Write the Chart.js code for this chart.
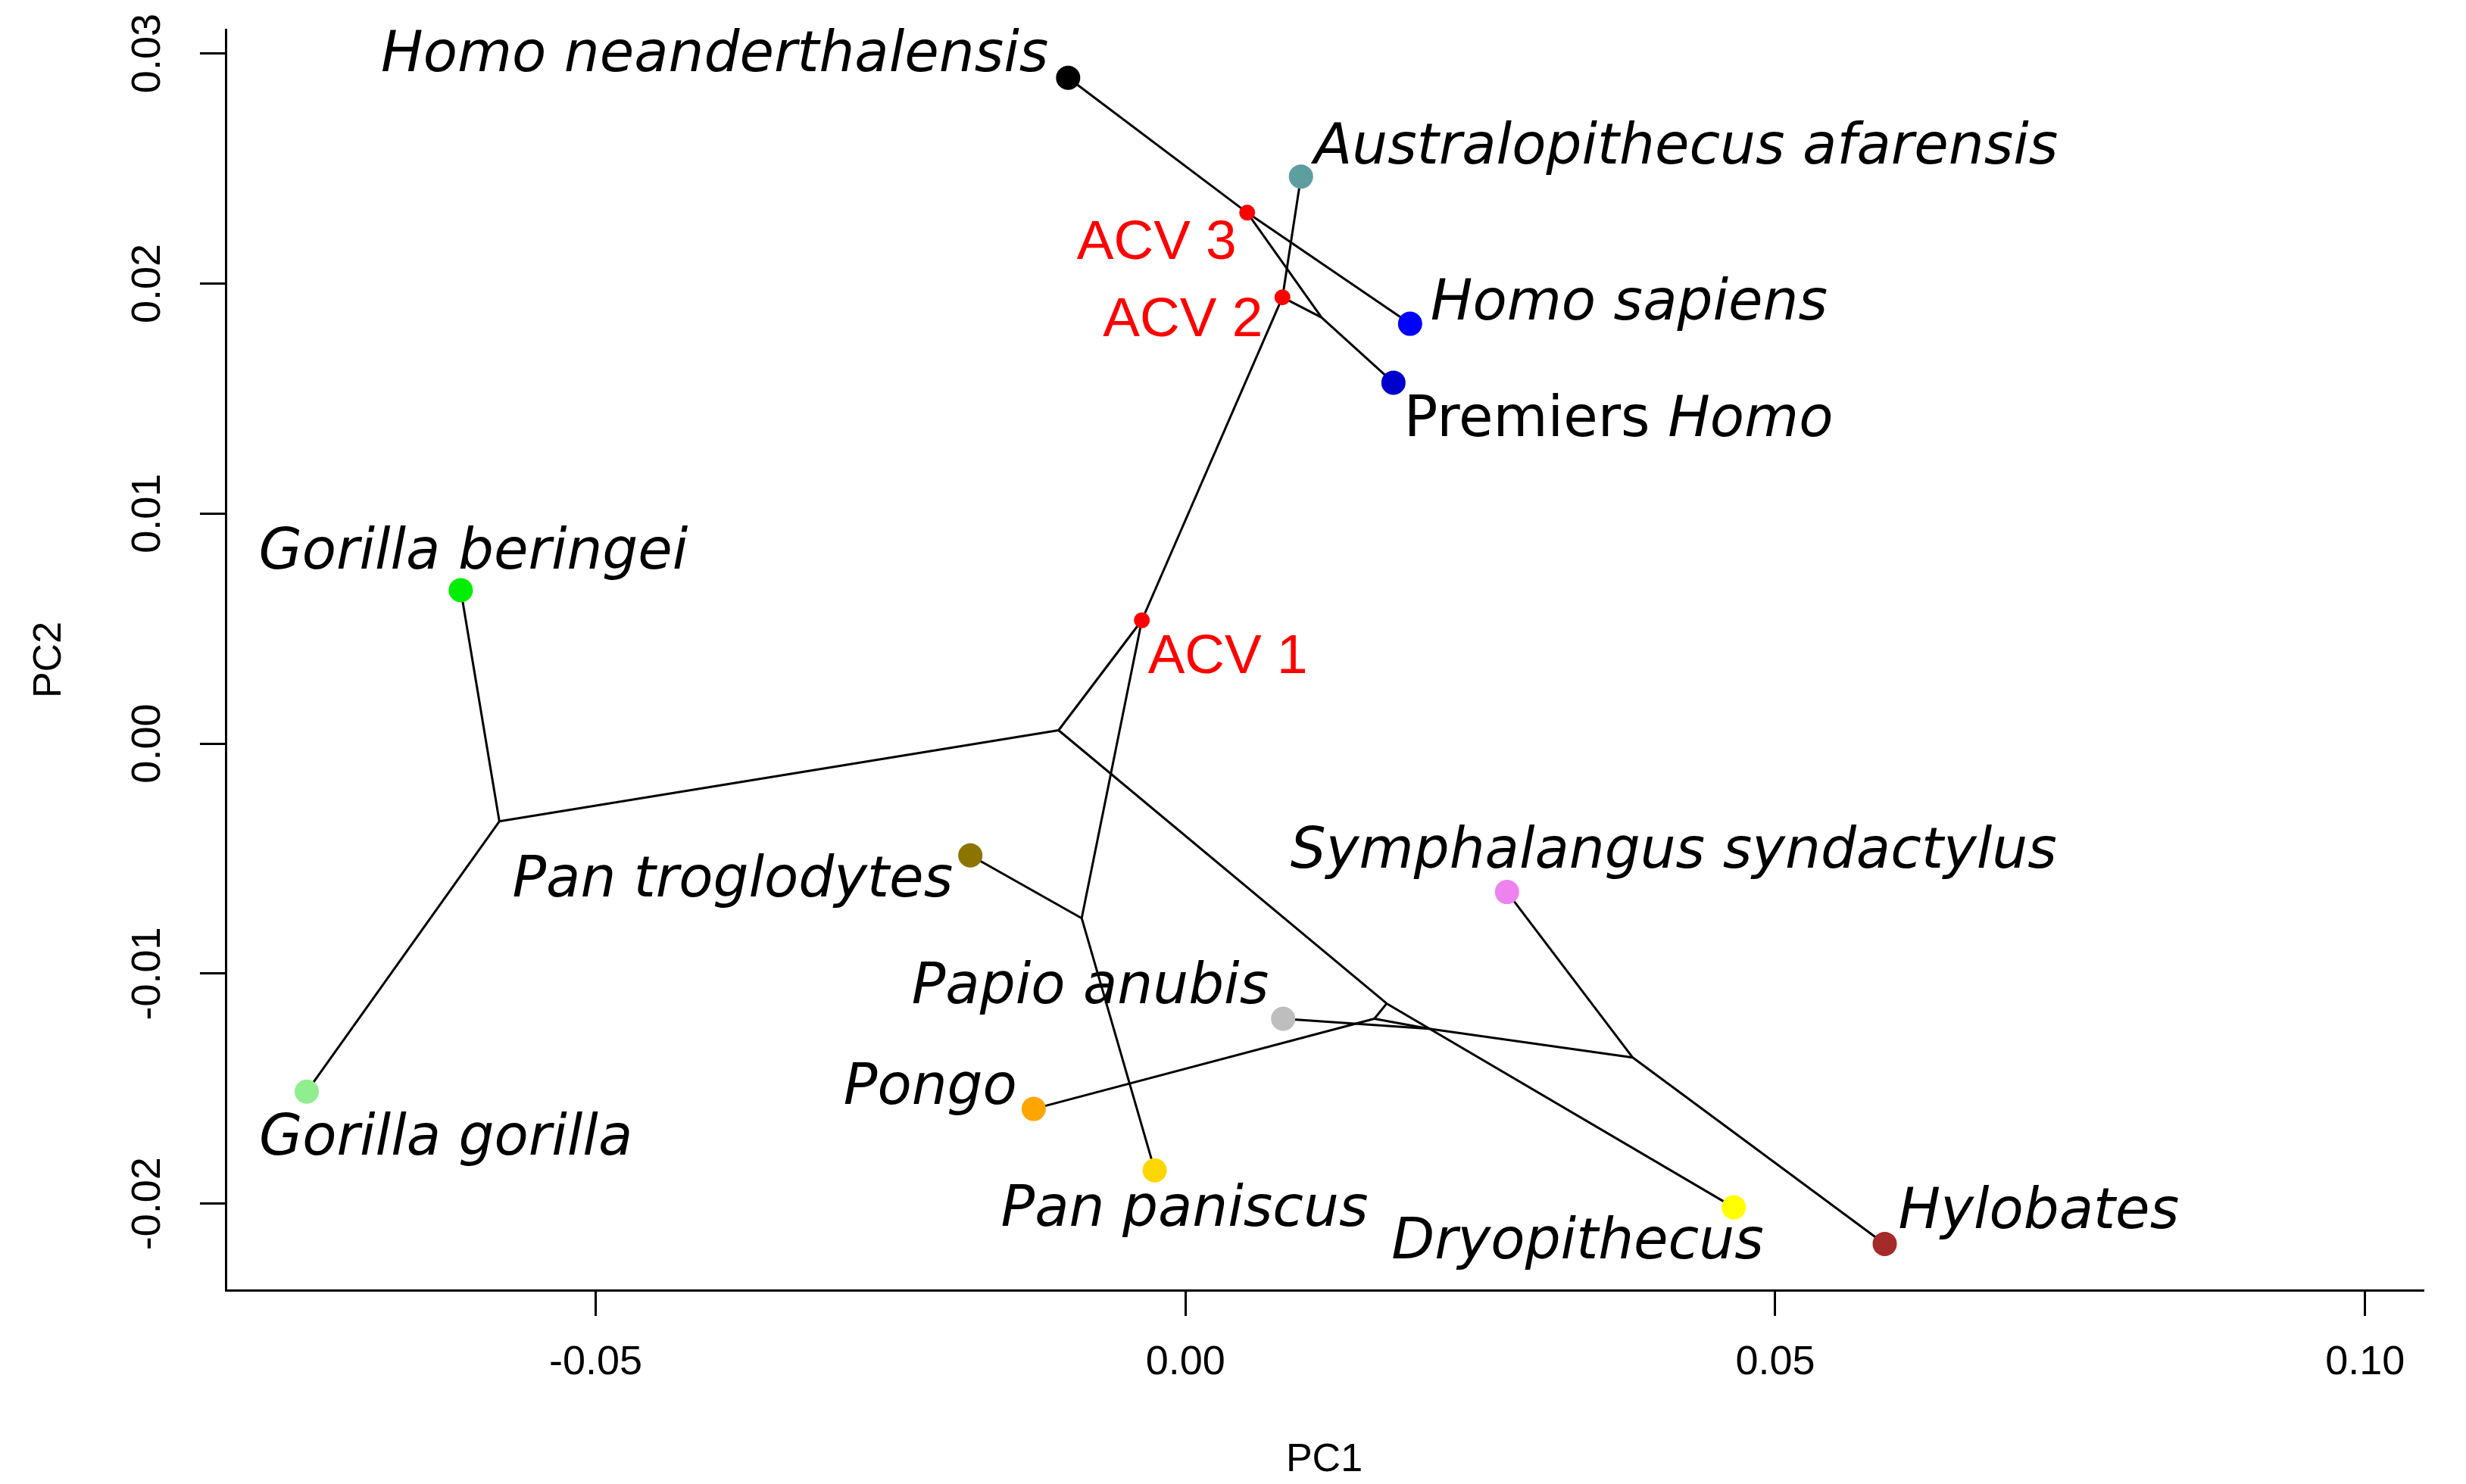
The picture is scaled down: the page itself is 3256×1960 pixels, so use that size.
<!DOCTYPE html>
<html>
<head>
<meta charset="utf-8">
<script src="https://cdn.jsdelivr.net/npm/chart.js@4"></script>
<style>
  html, body { margin: 0; padding: 0; background: #fff; }
  canvas { display: block; }
</style>
</head>
<body>
<canvas id="pcaChart" width="3256" height="1960"></canvas>
<script>
// taxons (tips)
const tipNames = ['Homo neanderthalensis', 'Australopithecus afarensis', 'Homo sapiens', 'Premiers Homo',
    'Gorilla beringei', 'Gorilla gorilla', 'Pan troglodytes', 'Pan paniscus', 'Pongo',
    'Papio anubis', 'Symphalangus syndactylus', 'Dryopithecus', 'Hylobates'];
const tipPC1 = [-0.00995, 0.00979, 0.01904, 0.01763, -0.06144, -0.07450, -0.01824, -0.00261, -0.01287,
    0.00828, 0.02726, 0.04648, 0.05928];
const tipPC2 = [0.02894, 0.02465, 0.01825, 0.01569, 0.00667, -0.01513, -0.00486, -0.01855, -0.01588,
    -0.01196, -0.00645, -0.02016, -0.02175];
const tipColors = ['#000000', '#5F9EA0', '#0000FF', '#0000CD', '#00EE00', '#90EE90', '#8B7500', '#FFD700',
    '#FFA500', '#BEBEBE', '#EE82EE', '#FFFF00', '#A52A2A'];

// noeuds internes (ancêtres reconstruits)
const nodeNames = ['root', 'gor', 'ACV 1', 'pan', 'ACV 2', 'hom', 'ACV 3', 'ape', 'pon', 'pap', 'hyl'];
const nodePC1 = [-0.01076, -0.05817, -0.00370, -0.00880, 0.00822, 0.01154, 0.00523, 0.01706, 0.01601, 0.02066, 0.03792];
const nodePC2 = [0.00058, -0.00338, 0.00536, -0.00759, 0.01940, 0.01852, 0.02308, -0.01130, -0.01196, -0.01240, -0.01365];
const acvNames = ['ACV 1', 'ACV 2', 'ACV 3'];

// branches de l'arbre (parent -> enfant)
const edges = [
    ['root', 'gor'], ['gor', 'Gorilla beringei'], ['gor', 'Gorilla gorilla'],
    ['root', 'ACV 1'], ['root', 'ape'],
    ['ACV 1', 'ACV 2'], ['ACV 1', 'pan'], ['pan', 'Pan troglodytes'], ['pan', 'Pan paniscus'],
    ['ACV 2', 'Australopithecus afarensis'], ['ACV 2', 'hom'], ['hom', 'ACV 3'], ['hom', 'Premiers Homo'],
    ['ACV 3', 'Homo neanderthalensis'], ['ACV 3', 'Homo sapiens'],
    ['ape', 'Dryopithecus'], ['ape', 'pon'], ['pon', 'Pongo'], ['pon', 'pap'],
    ['pap', 'Papio anubis'], ['pap', 'hyl'],
    ['hyl', 'Symphalangus syndactylus'], ['hyl', 'Hylobates']
];

// graduations
const pc1Ticks = [-0.05, 0.00, 0.05, 0.10];
const pc2Ticks = [-0.02, -0.01, 0.00, 0.01, 0.02, 0.03];

// placement des étiquettes (alignement, décalage en px vers la ligne de base)
const tipLabelPos = [
    ['right', -26, -9], ['left', 17, -17], ['left', 27, -6], ['left', 14, 71],
    ['left', -267, -28], ['left', -63, 83], ['right', -23, 54], ['left', -203, 73],
    ['right', -22, -7], ['right', -19, -20], ['left', -286, -32], ['left', -452, 67],
    ['left', 18, -21]
];
const acvLabelPos = [['left', 8, 70], ['right', -26, 51], ['right', -14, 61]];

function coords(name) {
    let i = tipNames.indexOf(name);
    if (i >= 0) return {x: tipPC1[i], y: tipPC2[i]};
    i = nodeNames.indexOf(name);
    return {x: nodePC1[i], y: nodePC2[i]};
}

const datasets = [];
datasets.push({
    label: 'tips',
    data: tipNames.map((n, i) => ({x: tipPC1[i], y: tipPC2[i]})),
    pointRadius: 16,
    pointBackgroundColor: tipColors,
    pointBorderWidth: 0,
    order: 0
});
datasets.push({
    label: 'acv',
    data: acvNames.map(n => coords(n)),
    pointRadius: 10.5,
    pointBackgroundColor: '#FF0000',
    pointBorderWidth: 0,
    order: 0
});
edges.forEach(e => {
    datasets.push({
        label: e[0] + '-' + e[1],
        data: [coords(e[0]), coords(e[1])],
        showLine: true,
        borderColor: '#000',
        borderWidth: 3,
        pointRadius: 0,
        order: 1
    });
});

const labelsPlugin = {
    id: 'taxonLabels',
    afterDatasetsDraw(chart) {
        const ctx = chart.ctx;
        const sx = chart.scales.x, sy = chart.scales.y;
        ctx.save();
        ctx.textBaseline = 'alphabetic';
        ctx.fillStyle = '#000';
        tipNames.forEach((name, i) => {
            const px = sx.getPixelForValue(tipPC1[i]) + tipLabelPos[i][1];
            const py = sy.getPixelForValue(tipPC2[i]) + tipLabelPos[i][2];
            ctx.textAlign = tipLabelPos[i][0];
            if (name === 'Premiers Homo') {
                ctx.textAlign = 'left';
                ctx.font = '74px "DejaVu Sans"';
                ctx.fillText('Premiers ', px, py);
                const w = ctx.measureText('Premiers ').width;
                ctx.font = 'italic 74px "DejaVu Sans"';
                ctx.fillText('Homo', px + w, py);
            } else {
                ctx.font = 'italic 74px "DejaVu Sans"';
                ctx.fillText(name, px, py);
            }
        });
        ctx.fillStyle = '#FF0000';
        ctx.font = '73px "Liberation Sans"';
        acvNames.forEach((name, i) => {
            const c = coords(name);
            ctx.textAlign = acvLabelPos[i][0];
            ctx.fillText(name, sx.getPixelForValue(c.x) + acvLabelPos[i][1], sy.getPixelForValue(c.y) + acvLabelPos[i][2]);
        });
        ctx.restore();
    }
};

const tickFont = {family: '"Liberation Sans"', size: 54};
const titleFont = {family: '"Liberation Sans"', size: 52};

new Chart(document.getElementById('pcaChart').getContext('2d'), {
    type: 'scatter',
    data: {datasets: datasets},
    options: {
        responsive: false,
        devicePixelRatio: 1,
        animation: false,
        layout: {padding: {top: 39, right: 57, bottom: 0, left: 0}},
        plugins: {legend: {display: false}, tooltip: {enabled: false}},
        scales: {
            x: {
                type: 'linear',
                min: -0.08137,
                max: 0.10490,
                afterBuildTicks: s => { s.ticks = pc1Ticks.map(v => ({value: v})); },
                afterFit: s => { s.height = 256; },
                grid: {drawOnChartArea: false, drawTicks: true, tickLength: 34, color: '#000', lineWidth: 3},
                border: {display: true, color: '#000', width: 3},
                ticks: {
                    font: tickFont, color: '#000', padding: 30, maxRotation: 0, minRotation: 0,
                    callback: v => v.toFixed(2)
                },
                title: {display: true, text: 'PC1', font: titleFont, color: '#000', padding: {top: 0, bottom: 0}}
            },
            y: {
                type: 'linear',
                min: -0.02376,
                max: 0.03104,
                afterBuildTicks: s => { s.ticks = pc2Ticks.map(v => ({value: v})); },
                afterFit: s => { s.width = 298; },
                grid: {drawOnChartArea: false, drawTicks: true, tickLength: 34, color: '#000', lineWidth: 3},
                border: {display: true, color: '#000', width: 3},
                ticks: {
                    font: tickFont, color: '#000', padding: 6, minRotation: 90, maxRotation: 90,
                    crossAlign: 'center',
                    callback: v => v.toFixed(2)
                },
                title: {display: true, text: 'PC2', font: titleFont, color: '#000', padding: {top: 34, bottom: 0}}
            }
        }
    },
    plugins: [labelsPlugin]
});
</script>
</body>
</html>
